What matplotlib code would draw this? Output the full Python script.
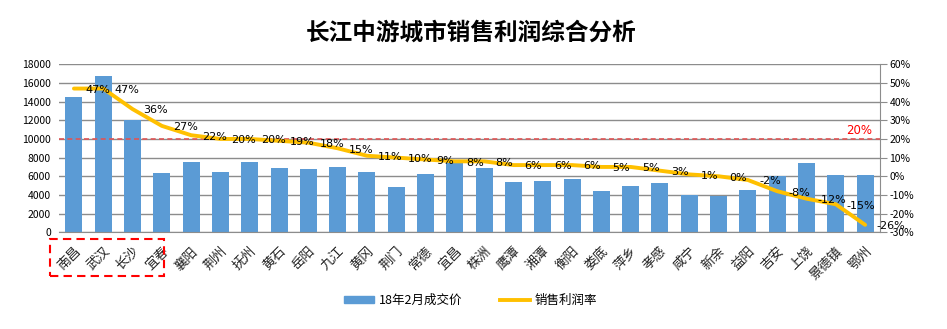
import matplotlib
matplotlib.use("Agg")
import matplotlib.pyplot as plt
from matplotlib.patches import Rectangle, Patch
from matplotlib.lines import Line2D
import matplotlib.transforms as mtransforms

plt.rcParams['font.family'] = ['Noto Sans CJK SC', 'DejaVu Sans']

cities = ['南昌', '武汉', '长沙', '宜春', '襄阳', '荆州', '抚州', '黄石', '岳阳', '九江',
          '黄冈', '荆门', '常德', '宜昌', '株洲', '鹰潭', '湘潭', '衡阳', '娄底', '萍乡',
          '孝感', '咸宁', '新余', '益阳', '吉安', '上饶', '景德镇', '鄂州']
price = [14500, 16750, 12000, 6350, 7550, 6450, 7550, 6900, 6800, 7000,
         6450, 4850, 6250, 7500, 6900, 5400, 5500, 5700, 4400, 4950,
         5300, 4000, 3900, 4500, 6000, 7450, 6150, 6150]
margin = [47, 47, 36, 27, 22, 20, 20, 19, 18, 15,
          11, 10, 9, 8, 8, 6, 6, 6, 5, 5,
          3, 1, 0, -2, -8, -12, -15, -26]
target = 20

bar_color = '#5B9BD5'
line_color = '#FFC000'
grid_color = '#8C8C8C'

fig = plt.figure(figsize=(9.47, 3.29), dpi=100)
ax = fig.add_axes([0.0626, 0.294, 0.8664, 0.5106])
ax2 = ax.twinx()

x = list(range(len(cities)))
ax.bar(x, price, width=0.58, color=bar_color, zorder=2)
ax.set_xlim(-0.5, len(cities) - 0.5)
ax.set_ylim(0, 18000)
ax.set_yticks(range(0, 18001, 2000))
ax.yaxis.grid(True, color=grid_color, linewidth=1, zorder=0)
ax.set_axisbelow(True)
ax.tick_params(axis='y', length=0, labelsize=7.5, pad=6)
ax.tick_params(axis='x', length=0, pad=9)
ax.set_xticks(x)
ax.set_xticklabels(cities, rotation=45, ha='right', rotation_mode='anchor',
                   fontsize=9.5, color='#222222')
for s in ['top', 'left', 'right']:
    ax.spines[s].set_visible(False)
ax.spines['bottom'].set_color(grid_color)

ax2.plot(x, margin, color=line_color, linewidth=2.8, solid_capstyle='round', zorder=3)
ax2.set_ylim(-30, 60)
ax2.set_yticks(range(-30, 61, 10))
ax2.set_yticklabels([f'{v}%' for v in range(-30, 61, 10)])
ax2.tick_params(axis='y', length=5, color=grid_color, labelsize=7.5, pad=2)
for s in ['top', 'left', 'bottom']:
    ax2.spines[s].set_visible(False)
ax2.spines['right'].set_color(grid_color)

for xi, m in zip(x, margin):
    ax2.annotate(f'{m}%', (xi, m), xytext=(8, -1), textcoords='offset points',
                 ha='left', va='center', fontsize=8, family='DejaVu Sans', zorder=4)

ax2.axhline(target, color='#E05555', linestyle=(0, (3, 2)), linewidth=1.2, zorder=2)
ax2.text(26.8, target + 1, f'{target}%', color='#FF0000', ha='center', va='bottom',
         fontsize=8.5, family='DejaVu Sans')

trans = mtransforms.blended_transform_factory(ax.transData, ax.transAxes)
ax.add_patch(Rectangle((-0.82, -0.26), 3.89, 0.22, transform=trans, fill=False,
                       edgecolor='#FF0000', linestyle=(0, (4, 2.5)), linewidth=1.5,
                       clip_on=False))

fig.text(0.497, 0.9, '长江中游城市销售利润综合分析', fontsize=17, fontweight='bold',
         ha='center', va='center')

handles = [Patch(color=bar_color), Line2D([0], [0], color=line_color, linewidth=2.8)]
fig.legend(handles, ['18年2月成交价', '销售利润率'], loc='center', ncol=2,
           bbox_to_anchor=(0.497, 0.088), frameon=False, fontsize=9,
           handlelength=2.4, handleheight=0.5, columnspacing=3, handletextpad=0.4)

fig.savefig('out.png', dpi=100)
